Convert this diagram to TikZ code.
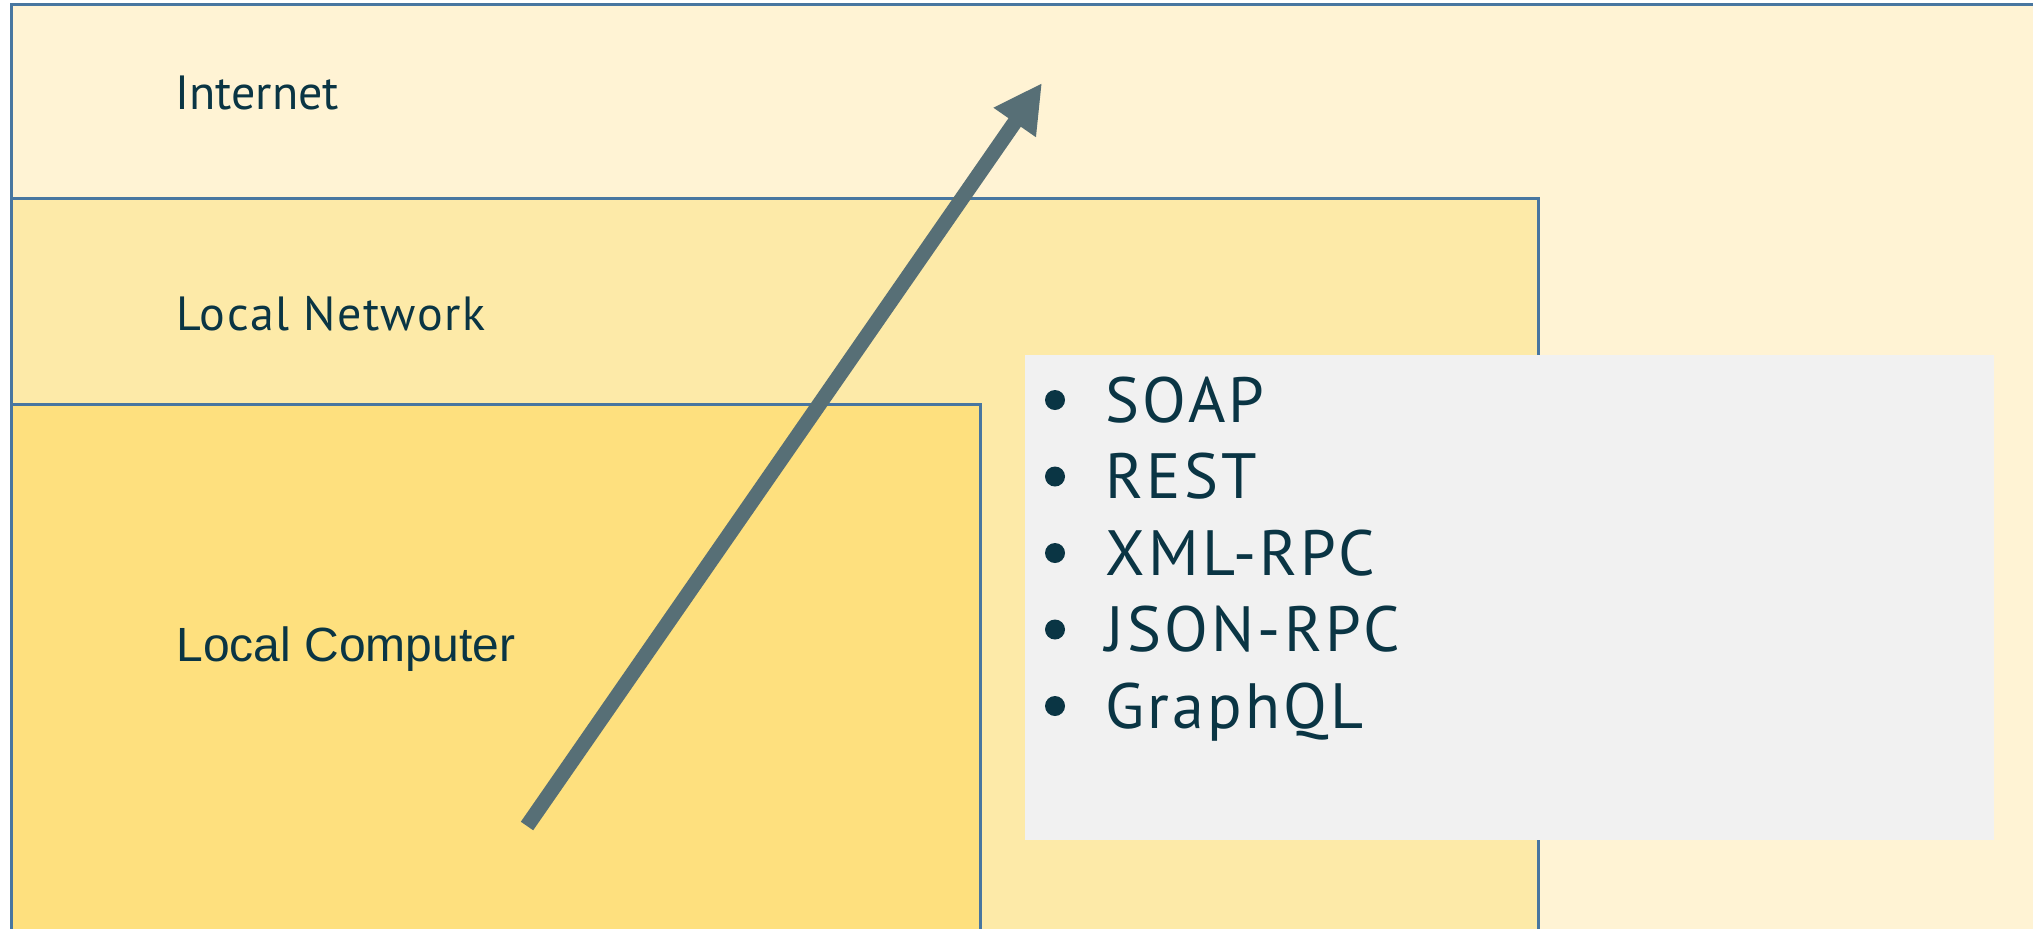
\documentclass[tikz,border=0pt]{standalone}
\usepackage{fontspec}
\setmainfont{PT Sans}
\newfontfamily\zonefont[LetterSpace=3]{PT Sans}
\newfontfamily\protofont[LetterSpace=5]{PT Sans}
\newfontfamily\arialfont{Liberation Sans}
\usetikzlibrary{arrows.meta}

\definecolor{inetfill}{RGB}{255,243,212}
\definecolor{lanfill}{RGB}{253,234,168}
\definecolor{pcfill}{RGB}{254,224,126}
\definecolor{listfill}{RGB}{241,241,241}
\definecolor{boxline}{RGB}{72,118,160}
\definecolor{labeltext}{RGB}{10,53,68}
\definecolor{arrowgray}{RGB}{87,111,118}

\tikzset{every picture/.style={line width=1.5pt}}
\tikzset{
  zone/.style={draw=boxline, line width=1.5pt},
  zonelabel/.style={anchor=base west, inner sep=0pt, text=labeltext, font=\zonefont\fontsize{24}{28}\selectfont},
  protolabel/.style={anchor=base west, inner sep=0pt, text=labeltext, font=\protofont\fontsize{32}{38}\selectfont},
  bulletdot/.style={circle, fill=labeltext, inner sep=0pt, minimum size=10pt},
}

\begin{document}
\begin{tikzpicture}[x=0.5pt,y=0.5pt,yscale=-1,xscale=1]
\useasboundingbox (0,0) rectangle (2033,928);
\clip (0,0) rectangle (2033,928);

%Shape: Rectangle
\draw [zone, fill=inetfill] (11,4) rectangle (2060,960) ;
%Shape: Rectangle
\draw [zone, fill=lanfill] (11,198) rectangle (1538,960) ;
%Shape: Rectangle
\draw [zone, fill=pcfill] (11,404) rectangle (980,960) ;
%Shape: Rectangle
\fill [listfill] (1025,355) rectangle (1994,840) ;

% Text Node
\draw (174,109) node (inet) [zonelabel, font=\fontsize{24}{28}\selectfont] {Internet};
% Text Node
\draw (175,330) node (lan) [zonelabel] {Local Network};
% Text Node
\draw (175,661) node (pc) [zonelabel, font=\arialfont\fontsize{24}{28}\selectfont] {Local Computer};

% Text Node
\foreach \proto [count=\i] in {SOAP,REST,XML-RPC,JSON-RPC,GraphQL} {
  \draw (1055,{400+76.5*(\i-1)}) node (bul\i) [bulletdot] {};
  \draw (1104,{422+76.5*(\i-1)}) node (proto\i) [protolabel] {\proto};
}

%Straight Lines
\coordinate (tail) at (527,826);
\coordinate (head) at (1042,83);
\draw [arrowgray, line width=7.5pt, -{Triangle[length=24pt,width=24pt]}] (tail) -- (head) ;

\end{tikzpicture}
\end{document}
